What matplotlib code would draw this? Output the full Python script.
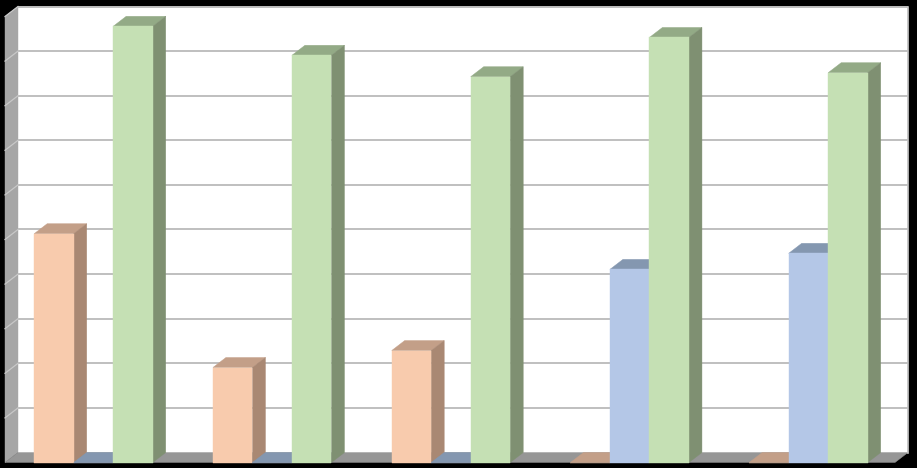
import matplotlib
matplotlib.use("Agg")
import matplotlib.pyplot as plt
from matplotlib.patches import Polygon

categories = ["A", "B", "C", "D", "E"]
orange_values = [5.13, 2.13, 2.51, 0, 0]
blue_values = [0, 0, 0, 4.33, 4.69]
green_values = [9.78, 9.13, 8.65, 9.53, 8.74]

series = [
    (orange_values, "#F8CBAD", "#C39F88", "#A98873"),
    (blue_values, "#B4C7E7", "#8497B0", "#7A8AA3"),
    (green_values, "#C5E0B4", "#93AA86", "#7F9072"),
]

W, H = 917, 468
PX_X = 178.75   # pixels per category
PX_Y = 44.6     # pixels per value unit
X0, Y0 = 34.2, 462.5
BAR = 39.5 / PX_X
DX, DY = 13 / PX_X, 10 / PX_Y
AX_L = (5 - X0) / PX_X      # front-left corner of the plot box
AX_R = (895 - X0) / PX_X    # front-right corner of the plot box
TOP = 10.0

fig = plt.figure(figsize=(W / 100, H / 100), dpi=100, facecolor="black")
ax = fig.add_axes([0, 0, 1, 1])
ax.set_xlim(-X0 / PX_X, (W - X0) / PX_X)
ax.set_ylim(-(H - Y0) / PX_Y, Y0 / PX_Y)
ax.axis("off")


def poly(pts, color, z):
    ax.add_patch(Polygon(pts, closed=True, facecolor=color, edgecolor=color,
                         linewidth=0.3, zorder=z))


# back wall, side wall, floor
poly([(AX_L + DX, DY), (AX_R + DX, DY), (AX_R + DX, TOP + DY), (AX_L + DX, TOP + DY)], "white", 1)
poly([(AX_L, 0), (AX_L + DX, DY), (AX_L + DX, TOP + DY), (AX_L, TOP)], "#A6A6A6", 2)
poly([(AX_L, 0), (AX_R, 0), (AX_R + DX, DY), (AX_L + DX, DY)], "#969696", 2)

# gridlines on wall and side wall
for v in range(1, 11):
    ax.plot([AX_L + DX, AX_R + DX], [v + DY, v + DY], color="#BFBFBF", lw=1.4,
            solid_capstyle="butt", zorder=3)
    ax.plot([AX_L, AX_L + DX], [v, v + DY], color="#C8C8C8", lw=0.9, zorder=3)
ax.plot([AX_R + DX, AX_R + DX], [DY, TOP + DY], color="#BFBFBF", lw=1.2, zorder=3)

# bars
z = 4
for g in range(len(categories)):
    for s, (vals, front, top, side) in enumerate(series):
        x = g + s * BAR
        v = vals[g]
        poly([(x, v), (x + BAR, v), (x + BAR + DX, v + DY), (x + DX, v + DY)], top, z)
        poly([(x + BAR, 0), (x + BAR + DX, DY), (x + BAR + DX, v + DY), (x + BAR, v)], side, z)
        poly([(x, 0), (x + BAR, 0), (x + BAR, v), (x, v)], front, z + 0.5)
        z += 1

fig.savefig("out.png", dpi=100, facecolor="black")
